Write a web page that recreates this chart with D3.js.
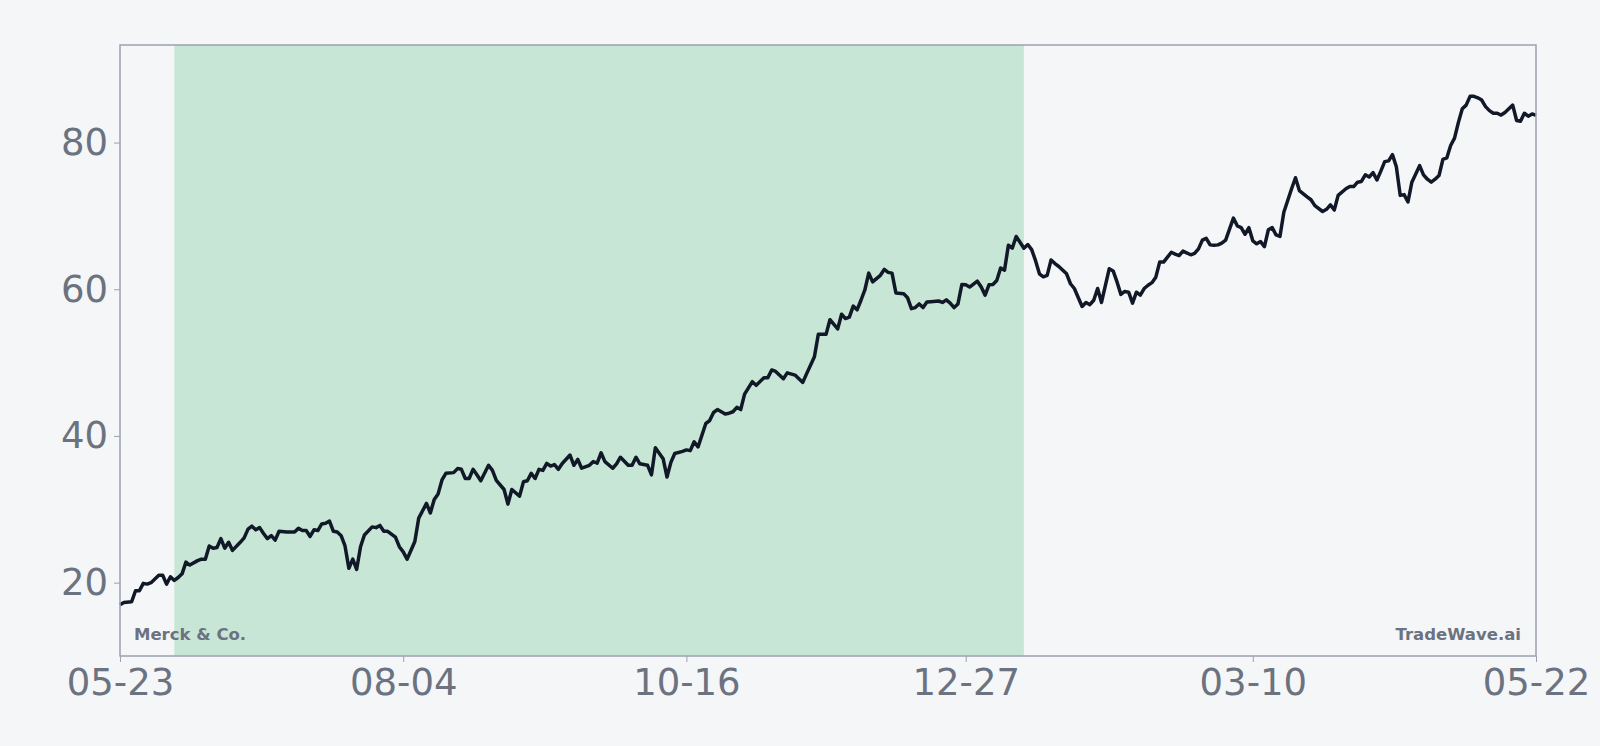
<!DOCTYPE html>
<html>
<head>
<meta charset="utf-8">
<script src="https://cdn.jsdelivr.net/npm/d3@7"></script>
<style>
  html, body { margin: 0; padding: 0; background: #f5f6f8; }
  svg { display: block; }
</style>
</head>
<body>
<svg id="chart"></svg>
<script>
// Daily closes, as day offsets from the first date
const startDate = "2023-05-23";
const endDate = "2024-05-22";

const dayOffsets = [
  0, 1, 3, 4, 5, 6, 7, 8, 10, 11, 12, 13, 14, 15, 16, 17, 18, 20, 21, 22,
  23, 24, 25, 26, 27, 28, 29, 31, 32, 33, 34, 35, 36, 37, 38, 39, 40, 41, 43, 44,
  45, 46, 47, 48, 49, 50, 51, 52, 53, 54, 55, 56,
  57, 58, 59, 60, 61, 62, 63, 65, 66, 67, 68, 69, 71, 72, 73, 74, 76, 77, 79, 80,
  81, 82, 83, 84, 86, 87, 88, 89, 90, 91, 92, 93, 95, 96, 97, 99, 100, 101, 103, 104,
  105, 106, 107, 108, 109, 110, 111, 112, 113, 114, 116, 117,
  118, 119, 121, 122, 123, 124, 125, 127, 128, 129, 131, 132, 133, 134, 136, 137, 138, 140, 141, 142,
  143, 145, 146, 147, 148, 149, 151, 152, 153, 154, 156, 157, 158, 159, 160, 161, 163, 164, 166, 167,
  168, 169, 171, 172, 174, 176, 177, 179,
  180, 182, 183, 185, 186, 187, 188, 189, 190, 191, 192, 193, 194, 196, 197, 198, 199, 200, 202, 203,
  204, 205, 206, 207, 208, 209, 211, 212, 213, 214, 215, 216, 217, 218, 219, 221, 222, 223, 224, 225,
  226, 227, 228, 229, 230, 231, 232, 233, 234, 235, 236, 237, 238,
  239, 240, 241, 242, 244, 245, 246, 248, 249, 250, 251, 252, 253, 255, 256, 257, 258, 259, 260, 261,
  262, 263, 264, 265, 266, 267, 268, 269, 271, 272, 273, 274, 276, 277, 278, 279, 280, 281, 282, 283,
  284, 285, 287, 288, 289, 290, 291, 292, 293, 294, 295, 296, 297,
  298, 299, 300, 301, 302, 303, 304, 306, 307, 308, 310, 311, 312, 313, 314, 316, 317, 318, 319, 320,
  321, 322, 323, 324, 325, 326, 327, 328, 329, 330, 331, 332, 333, 334, 335, 336, 337, 338, 339, 340,
  341, 342, 343, 344, 345, 346, 347, 348, 349, 350, 351, 352, 353, 354, 355, 356, 357, 358, 359, 360,
  361, 362, 363, 364, 365
];

const prices = [
  17.0, 17.3, 17.4, 18.9, 18.9, 19.9, 19.8, 20.0, 21.0, 21.0, 19.8, 20.8, 20.3, 20.7, 21.2, 22.8, 22.4, 23.0, 23.2, 23.2,
  25.0, 24.7, 24.8, 26.0, 24.7, 25.5, 24.4, 25.5, 26.1, 27.3, 27.7, 27.2, 27.5, 26.7, 26.0, 26.4, 25.8, 27.0, 26.9, 26.9,
  26.9, 27.4, 27.1, 27.1, 26.3, 27.2, 27.1, 28.0, 28.1, 28.4, 27.0, 26.9,
  26.4, 25.0, 21.95, 23.2, 21.8, 24.9, 26.5, 27.6, 27.5, 27.8, 27.0, 27.0, 26.2, 24.9, 24.2, 23.2, 25.6, 28.8, 30.8, 29.5,
  31.35, 32.1, 34.0, 34.9, 35.0, 35.55, 35.45, 34.2, 34.2, 35.45, 34.7, 33.9, 36.0, 35.3, 33.95, 32.7, 30.7, 32.7, 31.8, 33.75,
  33.9, 34.9, 34.2, 35.45, 35.3, 36.25, 35.9, 36.1, 35.45, 36.25, 37.4, 36.0,
  36.8, 35.6, 36.0, 36.5, 36.3, 37.7, 36.5, 35.6, 36.2, 37.1, 36.0, 36.0, 37.1, 36.2, 36.0, 34.7, 38.4, 36.9, 34.4, 36.4,
  37.6, 37.9, 38.1, 38.0, 39.2, 38.5, 41.7, 42.1, 43.2, 43.6, 43.0, 43.1, 43.3, 43.9, 43.6, 45.7, 47.4, 46.9, 47.95, 47.95,
  49.0, 48.8, 47.8, 48.6, 48.3, 47.3, 48.5, 50.8,
  53.85, 53.85, 55.85, 54.6, 56.6, 56.0, 56.2, 57.7, 57.2, 58.5, 59.9, 62.2, 61.0, 61.9, 62.7, 62.3, 62.2, 59.5, 59.4, 58.85,
  57.35, 57.5, 58.0, 57.5, 58.25, 58.3, 58.4, 58.2, 58.55, 58.1, 57.5, 58.0, 60.65, 60.6, 60.3, 61.1, 60.3, 59.2, 60.6, 60.65,
  61.2, 62.9, 62.6, 66.0, 65.6, 67.2, 66.4, 65.6, 66.1, 65.4, 63.9, 62.1, 61.7,
  61.9, 64.0, 63.5, 63.1, 62.1, 60.75, 60.1, 57.65, 58.2, 57.9, 58.5, 60.1, 58.2, 62.8, 62.5, 61.0, 59.3, 59.7, 59.6, 58.1,
  59.6, 59.2, 60.1, 60.55, 60.9, 61.65, 63.7, 63.7, 65.05, 64.8, 64.6, 65.2, 64.7, 64.9, 65.5, 66.7, 66.95, 66.05, 66.0, 66.05,
  66.3, 66.7, 69.7, 68.65, 68.4, 67.5, 68.4, 66.6, 66.2, 66.5, 65.8, 68.1, 68.4,
  67.4, 67.2, 70.5, 72.1, 73.7, 75.2, 73.45, 72.6, 72.2, 71.4, 70.6, 70.9, 71.5, 70.8, 72.8, 73.7, 74.0, 74.0, 74.6, 74.7,
  75.6, 75.3, 75.9, 74.9, 76.1, 77.4, 77.5, 78.35, 76.7, 72.8, 72.9, 71.9, 74.6, 75.7, 76.85, 75.6, 75.0, 74.6, 75.0, 75.5,
  77.7, 77.9, 79.6, 80.6, 82.75, 84.6, 85.1, 86.3, 86.3, 86.1, 85.8, 84.9, 84.35, 84.0, 84.0, 83.75, 84.1, 84.6, 85.1, 83.0,
  82.9, 84.0, 83.6, 83.9, 83.7
];

const xTickDates = ["2023-05-23", "2023-08-04", "2023-10-16", "2023-12-27", "2024-03-10", "2024-05-22"];
const yTickValues = [20, 40, 60, 80];
const shadeRange = ["2023-06-06", "2024-01-11"];
const yDomain = [10, 93.3];
const companyLabel = "Merck & Co.";
const brandLabel = "TradeWave.ai";

const width = 1600, height = 746;
const margin = { top: 45, right: 64, bottom: 90, left: 120 };
const font = "'DejaVu Sans', sans-serif";

const parse = d3.utcParse("%Y-%m-%d");
const start = parse(startDate);
const data = dayOffsets.map((d, i) => ({ date: d3.utcDay.offset(start, d), price: prices[i] }));

const svg = d3.select("#chart")
  .attr("width", width)
  .attr("height", height)
  .style("background", "#f5f6f8");

const x = d3.scaleUtc()
  .domain([start, parse(endDate)])
  .range([margin.left, width - margin.right]);

const y = d3.scaleLinear()
  .domain(yDomain)
  .range([height - margin.bottom, margin.top]);

// highlighted period
svg.append("rect")
  .attr("x", x(parse(shadeRange[0])))
  .attr("y", margin.top)
  .attr("width", x(parse(shadeRange[1])) - x(parse(shadeRange[0])))
  .attr("height", height - margin.bottom - margin.top)
  .attr("fill", "#c8e6d5");

// price line
const line = d3.line()
  .x(d => x(d.date))
  .y(d => y(d.price));

svg.append("path")
  .datum(data)
  .attr("fill", "none")
  .attr("stroke", "#111827")
  .attr("stroke-width", 3.5)
  .attr("stroke-linejoin", "round")
  .attr("d", line);

// frame
svg.append("rect")
  .attr("x", margin.left)
  .attr("y", margin.top)
  .attr("width", width - margin.left - margin.right)
  .attr("height", height - margin.top - margin.bottom)
  .attr("fill", "none")
  .attr("stroke", "#9ca0b0")
  .attr("stroke-width", 1.5);

// axes
const yAxis = svg.append("g")
  .attr("transform", `translate(${margin.left},0)`)
  .call(d3.axisLeft(y).tickValues(yTickValues).tickSize(6).tickPadding(6));

const xAxis = svg.append("g")
  .attr("transform", `translate(0,${height - margin.bottom})`)
  .call(d3.axisBottom(x)
    .tickValues(xTickDates.map(parse))
    .tickFormat(d3.utcFormat("%m-%d"))
    .tickSize(6).tickPadding(7));

[xAxis, yAxis].forEach(g => {
  g.select(".domain").remove();
  g.selectAll(".tick line").attr("stroke", "#9ca0b0");
  g.selectAll(".tick text")
    .attr("fill", "#6b7280")
    .style("font-family", font)
    .style("font-size", "37px");
});

// corner labels
svg.append("text")
  .text(companyLabel)
  .attr("x", margin.left + 14)
  .attr("y", height - margin.bottom - 16)
  .attr("fill", "#6b7280")
  .style("font-family", font)
  .style("font-weight", "bold")
  .style("font-size", "16.5px");

svg.append("text")
  .text(brandLabel)
  .attr("x", width - margin.right - 15)
  .attr("y", height - margin.bottom - 16)
  .attr("text-anchor", "end")
  .attr("fill", "#6b7280")
  .style("font-family", font)
  .style("font-weight", "bold")
  .style("font-size", "16.5px");
</script>
</body>
</html>
